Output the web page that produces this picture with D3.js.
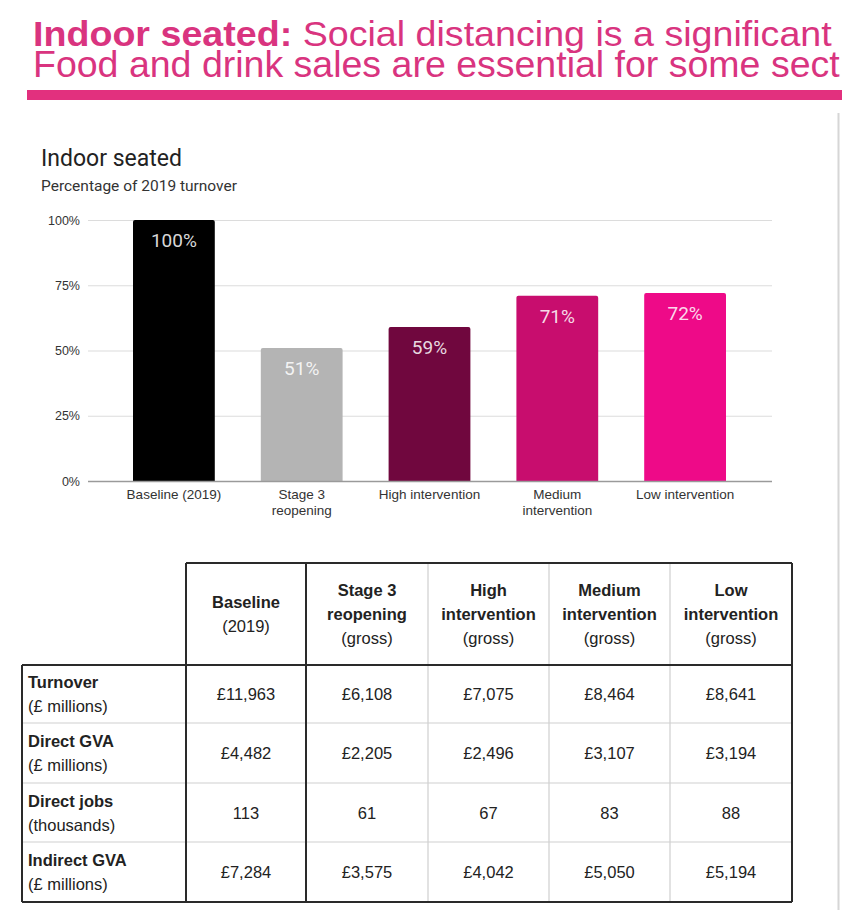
<!DOCTYPE html>
<html>
<head>
<meta charset="utf-8">
<script src="https://cdn.jsdelivr.net/npm/d3@7"></script>
<style>
  html, body { margin: 0; padding: 0; background: #fff; }
  svg { display: block; }
</style>
</head>
<body>
<svg id="chart" width="842" height="910"></svg>
<script>
// ---------- data ----------
const titleBold = "Indoor seated:";
const titleRest = " Social distancing is a significant";
const titleLine2 = "Food and drink sales are essential for some sect";
const chartTitle = "Indoor seated";
const chartSubtitle = "Percentage of 2019 turnover";

const categories = ["Baseline (2019)", "Stage 3 reopening", "High intervention", "Medium intervention", "Low intervention"];
const categoryLabelLines = [["Baseline (2019)"], ["Stage 3", "reopening"], ["High intervention"], ["Medium", "intervention"], ["Low intervention"]];
const shareOf2019 = [1.00, 0.51, 0.59, 0.71, 0.72];
const barColors = ["#000000", "#b4b4b4", "#70073e", "#c80d6e", "#ee0a88"];
const yTicks = [0, 0.25, 0.5, 0.75, 1.0];

const headerBoldLines = [["Baseline"], ["Stage 3", "reopening"], ["High", "intervention"], ["Medium", "intervention"], ["Low", "intervention"]];
const headerSub = ["(2019)", "(gross)", "(gross)", "(gross)", "(gross)"];
const rowLabels = ["Turnover", "Direct GVA", "Direct jobs", "Indirect GVA"];
const rowUnits = ["(£ millions)", "(£ millions)", "(thousands)", "(£ millions)"];
const turnover = [11963, 6108, 7075, 8464, 8641];
const directGVA = [4482, 2205, 2496, 3107, 3194];
const directJobs = [113, 61, 67, 83, 88];
const indirectGVA = [7284, 3575, 4042, 5050, 5194];
const rowIsMoney = [true, true, false, true];

// ---------- drawing ----------
const svg = d3.select("#chart");
const pink = "#d9347f";
const titleFont = "Liberation Sans, Arial, sans-serif";

// Page title (each line fitted to the width it spans in the reference)
function fitLine(textSel, x0, targetW) {
  const w = textSel.node().getComputedTextLength();
  textSel.attr("transform", `translate(${x0},0) scale(${targetW / w},1)`);
}
const t1 = svg.append("text").attr("x", 0).attr("y", 46)
  .attr("font-family", titleFont).attr("font-size", 36).attr("fill", pink);
t1.append("tspan").attr("font-weight", "bold").text(titleBold);
t1.append("tspan").text(titleRest);
fitLine(t1, 33, 799);
const t2 = svg.append("text").attr("x", 0).attr("y", 77)
  .attr("font-family", titleFont).attr("font-size", 36).attr("fill", pink)
  .text(titleLine2);
fitLine(t2, 33, 807);

svg.append("rect").attr("x", 27).attr("y", 90).attr("width", 815).attr("height", 10).attr("fill", "#e2307e");

// right edge divider
svg.append("line").attr("x1", 838.5).attr("x2", 838.5).attr("y1", 113).attr("y2", 910)
  .attr("stroke", "#d6d6d6").attr("stroke-width", 2);

// Chart titles
svg.append("text").attr("x", 41).attr("y", 166).attr("font-family", "Roboto, sans-serif")
  .attr("font-size", 23).attr("fill", "#222").text(chartTitle);
svg.append("text").attr("x", 41).attr("y", 191).attr("font-family", "Roboto, sans-serif")
  .attr("font-size", 15.5).attr("fill", "#333").text(chartSubtitle);

// Scales
const y = d3.scaleLinear().domain([0, 1]).range([481, 220]);
const x = d3.scaleBand().domain(categories).range([110, 749]).paddingInner(0.36).paddingOuter(0.18);

// gridlines + y labels
const yAxis = d3.axisLeft(y).tickValues(yTicks).tickFormat(d3.format(".0%"))
  .tickSize(-(772 - 88)).tickPadding(8);
const yg = svg.append("g").attr("transform", "translate(88,0)").call(yAxis);
yg.select(".domain").remove();
yg.selectAll(".tick line").attr("stroke", "#dcdcdc").attr("stroke-width", 1.2);
yg.selectAll(".tick text").attr("font-family", "Liberation Sans, Arial, sans-serif")
  .attr("font-size", 12.5).attr("fill", "#333");

// bars
const bars = svg.append("g");
categories.forEach((c, i) => {
  const x0 = x(c), w = x.bandwidth(), top = y(shareOf2019[i]);
  bars.append("path")
    .attr("d", `M${x0},${y(0)} V${top + 2} Q${x0},${top} ${x0 + 2},${top} H${x0 + w - 2} Q${x0 + w},${top} ${x0 + w},${top + 2} V${y(0)} Z`)
    .attr("fill", barColors[i]);
  bars.append("text").attr("x", x0 + w / 2).attr("y", top + 27)
    .attr("text-anchor", "middle").attr("font-family", "Roboto, sans-serif").attr("font-size", 19)
    .attr("fill", "#fff").attr("fill-opacity", 0.86).text(d3.format(".0%")(shareOf2019[i]));
});

// x axis baseline
const xAxis = d3.axisBottom(x).tickSize(0).tickFormat("");
const xg = svg.append("g").attr("transform", `translate(0,${y(0)})`).call(xAxis);
xg.select(".domain").attr("d", `M88,0.5H772`).attr("stroke", "#9a9a9a").attr("stroke-width", 1.5);
xg.selectAll(".tick").each(function (d, i) {
  const t = d3.select(this).append("text").attr("fill", "#333")
    .attr("font-family", "Liberation Sans, Arial, sans-serif").attr("font-size", 13.5)
    .attr("text-anchor", "middle");
  categoryLabelLines[i].forEach((ln, j) => {
    t.append("tspan").attr("x", 0).attr("y", 18 + j * 16).text(ln);
  });
});

// ---------- table ----------
const tableRows = [turnover, directGVA, directJobs, indirectGVA];
const colEdges = [22, 186, 306, 428, 549, 670, 792];
const rowEdges = [563, 665, 723, 783, 842, 902];
const font = "Liberation Sans, Arial, sans-serif";
const fs = 16.5;
const tbl = svg.append("g");
const money = d3.format(",");

// light inner lines
[428, 549, 670].forEach(cx => tbl.append("line").attr("x1", cx).attr("x2", cx)
  .attr("y1", rowEdges[0]).attr("y2", rowEdges[5]).attr("stroke", "#cfcfcf").attr("stroke-width", 1.2));
[723, 783, 842].forEach(ry => tbl.append("line").attr("x1", 22).attr("x2", 792)
  .attr("y1", ry).attr("y2", ry).attr("stroke", "#cfcfcf").attr("stroke-width", 1.2));

// dark lines
const dark = "#2a2a2a";
const dl = (x1, y1, x2, y2) => tbl.append("line").attr("x1", x1).attr("y1", y1).attr("x2", x2).attr("y2", y2)
  .attr("stroke", dark).attr("stroke-width", 2);
dl(186, 563, 792, 563);
dl(792, 563, 792, 902);
dl(186, 563, 186, 902);
dl(306, 563, 306, 902);
dl(22, 665, 792, 665);
dl(22, 665, 22, 902);
dl(22, 902, 792, 902);

// header text
headerBoldLines.forEach((lines, i) => {
  const cx = (colEdges[i + 1] + colEdges[i + 2]) / 2;
  const all = lines.map(l => ({ t: l, b: true })).concat([{ t: headerSub[i], b: false }]);
  const cy = (rowEdges[0] + rowEdges[1]) / 2;
  const lh = 24;
  all.forEach((o, j) => {
    tbl.append("text").attr("x", cx).attr("y", cy + (j - (all.length - 1) / 2) * lh + 6)
      .attr("text-anchor", "middle").attr("font-family", font).attr("font-size", fs)
      .attr("font-weight", o.b ? "bold" : "normal").attr("fill", "#222").text(o.t);
  });
});

// rows
tableRows.forEach((vals, r) => {
  const cy = (rowEdges[r + 1] + rowEdges[r + 2]) / 2;
  tbl.append("text").attr("x", 28).attr("y", cy - 12 + 6).attr("font-family", font)
    .attr("font-size", fs).attr("font-weight", "bold").attr("fill", "#222").text(rowLabels[r]);
  tbl.append("text").attr("x", 28).attr("y", cy + 12 + 6).attr("font-family", font)
    .attr("font-size", fs).attr("fill", "#222").text(rowUnits[r]);
  vals.forEach((v, i) => {
    const cx = (colEdges[i + 1] + colEdges[i + 2]) / 2;
    tbl.append("text").attr("x", cx).attr("y", cy + 6).attr("text-anchor", "middle")
      .attr("font-family", font).attr("font-size", fs).attr("fill", "#222")
      .text(rowIsMoney[r] ? "£" + money(v) : String(v));
  });
});
</script>
</body>
</html>
